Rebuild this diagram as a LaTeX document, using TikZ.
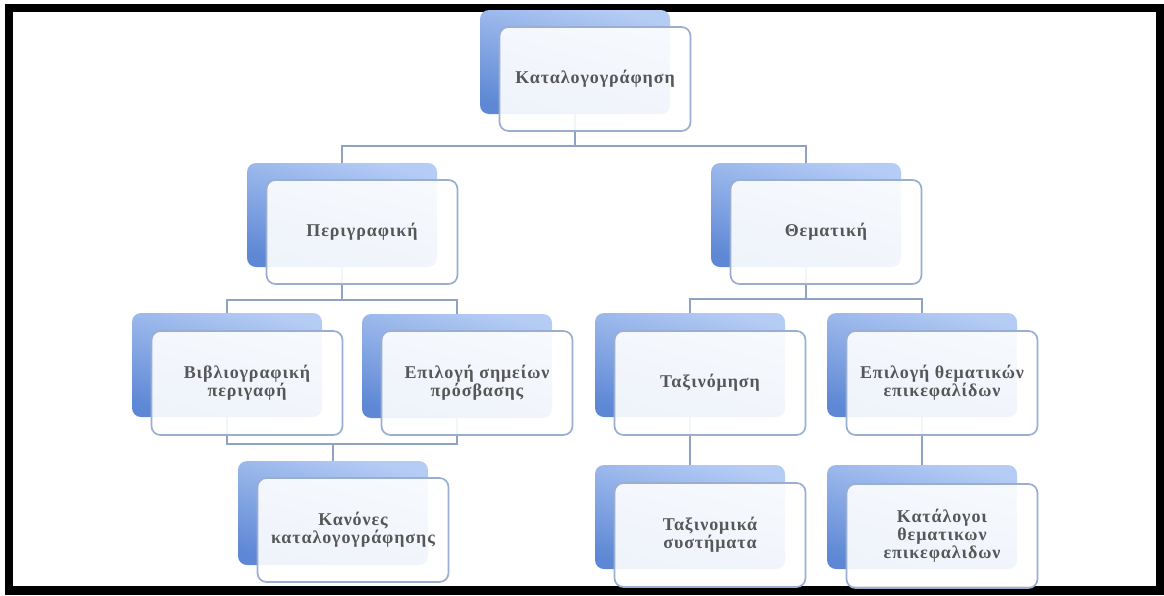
\documentclass[tikz,border=0pt]{standalone}
\usepackage{fontspec}
\setmainfont{Liberation Serif}
\newfontfamily\boxfont[LetterSpace=5]{Liberation Serif}
\usepackage{tikz}
\usetikzlibrary{backgrounds}

\definecolor{backtop}{HTML}{B5CCF5}
\definecolor{backbot}{HTML}{5E88D5}
\definecolor{frontline}{HTML}{9AAED2}
\definecolor{wirecol}{HTML}{8EA2C6}
\definecolor{txtcol}{HTML}{575757}

\tikzset{
	backbox/.style={shape=rectangle, rounded corners=9pt, minimum width=190pt, minimum height=104pt, top color=backtop, bottom color=backbot, shading angle=-15},
	frontbox/.style={shape=rectangle, rounded corners=9pt, minimum width=191pt, minimum height=104pt, draw=frontline, line width=1.7pt, fill=white, fill opacity=0.9, text opacity=1, text=txtcol, align=center, font=\boxfont\fontsize{18}{18}\selectfont\bfseries},
	wire/.style={draw=wirecol, line width=1.8pt}
}

\begin{document}
\begin{tikzpicture}[x=1pt, y=-1pt]
				\useasboundingbox (0,0) rectangle (1164,595);
				% Frame:
				\draw[line width=8pt] (9,8) rectangle (1160,590);
				\fill (5,586) rectangle (1164,595);
				% Boxes, back and front:
				\node[backbox](S1) at (575, 62){};
				\node[frontbox](N1) at (595, 79){Καταλογογράφηση};
				\node[backbox](S2) at (342, 215){};
				\node[frontbox](N2) at (362, 232){Περιγραφική};
				\node[backbox](S3) at (806, 215){};
				\node[frontbox](N3) at (826, 232){Θεματική};
				\node[backbox](S4) at (227, 365){};
				\node[frontbox](N4) at (247, 383){Βιβλιογραφική\\περιγαφή};
				\node[backbox](S5) at (457, 366){};
				\node[frontbox](N5) at (477, 383){Επιλογή σημείων\\πρόσβασης};
				\node[backbox](S6) at (333, 513){};
				\node[frontbox](N6) at (353, 530){Κανόνες\\καταλογογράφησης};
				\node[backbox](S7) at (690, 365){};
				\node[frontbox](N7) at (710, 383){Ταξινόμηση};
				\node[backbox](S8) at (922, 365){};
				\node[frontbox](N8) at (942, 383){Επιλογή θεματικών\\επικεφαλίδων};
				\node[backbox](S9) at (690, 517){};
				\node[frontbox](N9) at (710, 535){Ταξινομικά\\συστήματα};
				\node[backbox](S10) at (922, 517){};
				\node[frontbox](N10) at (942, 536){Κατάλογοι\\θεματικων\\επικεφαλιδων};
				% Wires:
				\begin{scope}[on background layer]
				\coordinate (J1) at (575, 146);
				\coordinate (J2) at (342, 300);
				\coordinate (J3) at (333, 444);
				\coordinate (J4) at (806, 299);
				\draw[wire] (S1.center) -- (J1) -| (S2.center);
				\draw[wire] (J1) -| (S3.center);
				\draw[wire] (S2.center) -- (J2) -| (S4.center);
				\draw[wire] (J2) -| (S5.center);
				\draw[wire] (S4.center) |- (J3) -- (S6.center);
				\draw[wire] (S5.center) |- (J3);
				\draw[wire] (S3.center) -- (J4) -| (S7.center);
				\draw[wire] (J4) -| (S8.center);
				\draw[wire] (S7.center) -- (S9.center);
				\draw[wire] (S8.center) -- (S10.center);
				\end{scope}
\end{tikzpicture}
\end{document}
